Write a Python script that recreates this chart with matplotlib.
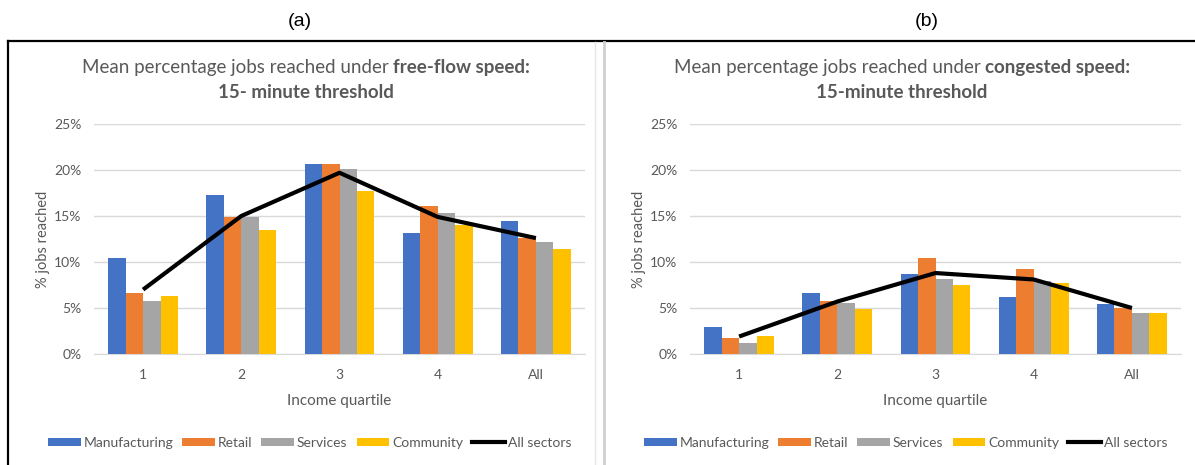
import matplotlib
matplotlib.use("Agg")
import matplotlib.pyplot as plt
import numpy as np
from matplotlib.patches import Patch
from matplotlib.lines import Line2D

categories = ["1", "2", "3", "4", "All"]
series_names = ["Manufacturing", "Retail", "Services", "Community"]
line_name = "All sectors"

# Panel (a): free-flow speed (percent)
a_manufacturing = [10.4, 17.3, 20.6, 13.2, 14.5]
a_retail = [6.6, 14.9, 20.7, 16.1, 12.6]
a_services = [5.8, 14.9, 20.1, 15.3, 12.2]
a_community = [6.3, 13.5, 17.7, 14.0, 11.4]
a_all = [7.0, 15.0, 19.7, 14.9, 12.6]

# Panel (b): congested speed (percent)
b_manufacturing = [2.9, 6.6, 8.7, 6.2, 5.4]
b_retail = [1.7, 5.8, 10.4, 9.2, 5.0]
b_services = [1.2, 5.5, 8.1, 7.9, 4.5]
b_community = [2.0, 4.9, 7.5, 7.7, 4.5]
b_all = [1.9, 5.7, 8.8, 8.1, 5.0]

yticks = [0, 5, 10, 15, 20, 25]

colors = ["#4472C4", "#ED7D31", "#A5A5A5", "#FFC000"]
TXT = "#595959"
FONT = "Lato"

W, H = 1195, 465
fig = plt.figure(figsize=(W / 100, H / 100), dpi=100)
plt.rcParams["font.family"] = [FONT, "DejaVu Sans"]


def px_rect(x0, y_top, x1, y_bot):
    return [x0 / W, 1 - y_bot / H, (x1 - x0) / W, (y_bot - y_top) / H]


def draw_panel(rect, data, line_vals):
    ax = fig.add_axes(rect)
    x = np.arange(len(categories))
    bw = 0.178
    for i, (vals, c) in enumerate(zip(data, colors)):
        ax.bar(x + (i - 1.5) * bw, vals, width=bw, color=c, zorder=3)
    ax.plot(x, line_vals, color="black", lw=3, zorder=4, solid_capstyle="butt")
    ax.set_xlim(-0.5, len(categories) - 0.5)
    ax.set_ylim(0, 25)
    ax.set_yticks(yticks)
    ax.set_yticklabels([f"{v}%" for v in yticks])
    ax.set_xticks(x)
    ax.set_xticklabels(categories)
    ax.grid(axis="y", color="#D9D9D9", lw=1, zorder=0)
    for s in ["top", "right", "left"]:
        ax.spines[s].set_visible(False)
    ax.spines["bottom"].set_color("#D9D9D9")
    ax.tick_params(axis="both", length=0, colors=TXT, labelsize=10)
    ax.tick_params(axis="y", pad=9)
    ax.tick_params(axis="x", pad=11)
    ax.set_xlabel("Income quartile", color=TXT, fontsize=11, labelpad=9)
    ax.set_ylabel("% jobs reached", color=TXT, fontsize=10.5, labelpad=3)
    handles = [Patch(facecolor=c, label=n) for c, n in zip(colors, series_names)]
    handles.append(Line2D([], [], color="black", lw=3, label=line_name))
    ax.legend(handles=handles, loc="center", bbox_to_anchor=(0.439, -0.385),
              ncol=5, frameon=False, fontsize=10, handlelength=2.37,
              handleheight=0.5, handletextpad=0.2, columnspacing=0.65,
              labelcolor=TXT)
    return ax


draw_panel(px_rect(94, 124, 585, 354),
           [a_manufacturing, a_retail, a_services, a_community], a_all)
draw_panel(px_rect(690, 124, 1181, 354),
           [b_manufacturing, b_retail, b_services, b_community], b_all)

# panel labels
fig.text(300 / W, 1 - 22 / H, "(a)", ha="center", va="center", fontsize=14,
         family="Liberation Sans", color="black")
fig.text(927 / W, 1 - 22 / H, "(b)", ha="center", va="center", fontsize=14,
         family="Liberation Sans", color="black")

# frame lines
fig.add_artist(Line2D([8 / W, 1], [1 - 40.5 / H] * 2, color="black", lw=1.6,
                      transform=fig.transFigure))
fig.add_artist(Line2D([8 / W, 8 / W], [0, 1 - 40.5 / H], color="black", lw=1.6,
                      transform=fig.transFigure))
fig.add_artist(Line2D([595 / W, 595 / W], [0, 1 - 42 / H], color="#E6E6E6", lw=1,
                      transform=fig.transFigure))
fig.add_artist(Line2D([604 / W, 604 / W], [0, 1 - 42 / H], color="#CFCFCF", lw=2,
                      transform=fig.transFigure))

# titles with mixed weights
renderer = fig.canvas.get_renderer()
TS = 13.5


def mixed_title(cx, y, normal, bold):
    t1 = fig.text(0, 1 - y / H, normal, fontsize=TS, color=TXT, ha="left", va="center")
    t2 = fig.text(0, 1 - y / H, bold, fontsize=TS, color=TXT, weight="bold",
                  ha="left", va="center")
    w1 = t1.get_window_extent(renderer).width
    w2 = t2.get_window_extent(renderer).width
    x0 = cx - (w1 + w2) / 2
    t1.set_x(x0 / W)
    t2.set_x((x0 + w1) / W)


mixed_title(306, 68, "Mean percentage jobs reached under ", "free-flow speed:")
fig.text(306 / W, 1 - 92 / H, "15- minute threshold", fontsize=TS, color=TXT,
         weight="bold", ha="center", va="center")
mixed_title(902, 68, "Mean percentage jobs reached under ", "congested speed:")
fig.text(902 / W, 1 - 92 / H, "15-minute threshold", fontsize=TS, color=TXT,
         weight="bold", ha="center", va="center")

fig.savefig("out.png", dpi=100)
